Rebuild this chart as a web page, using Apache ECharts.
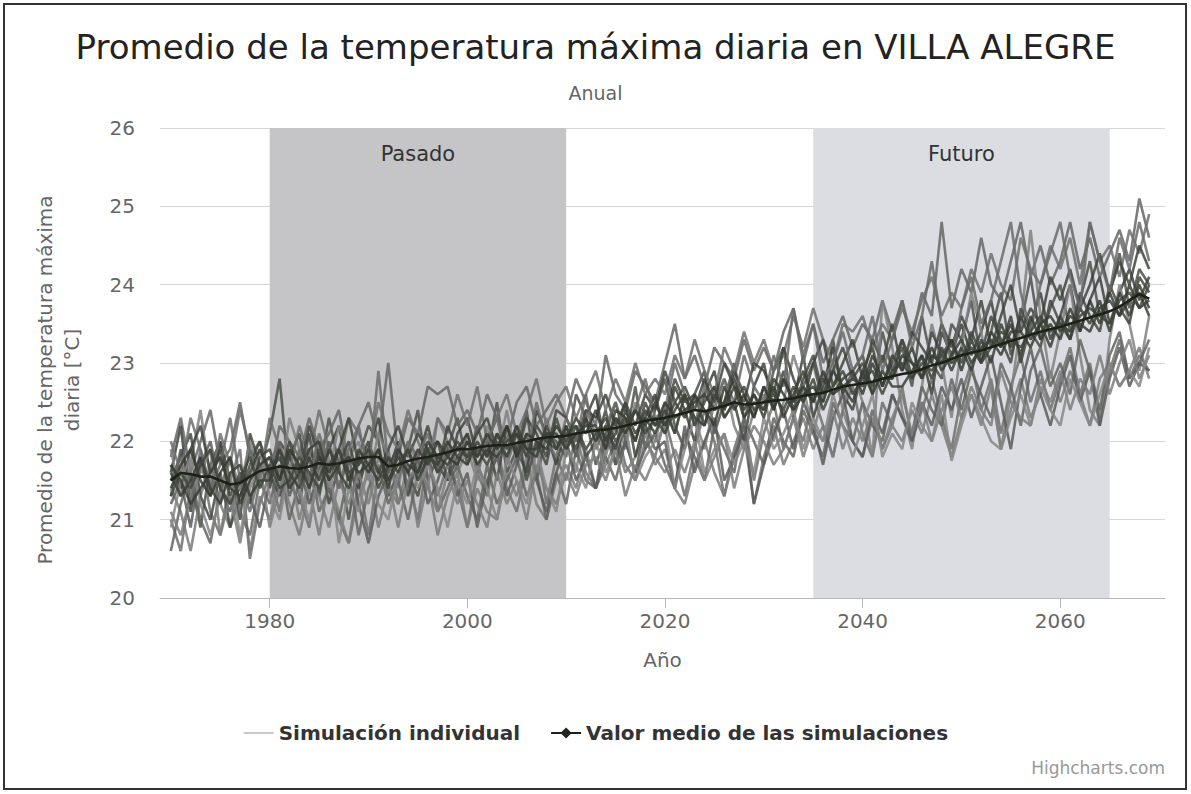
<!DOCTYPE html>
<html><head><meta charset="utf-8">
<script src="https://cdn.jsdelivr.net/npm/echarts@6/dist/echarts.min.js"></script>
<style>html,body{margin:0;padding:0;background:#fff}#c{width:1191px;height:794px}</style>
</head><body><div id="c"></div>
<script>
const years = [
1970,1971,1972,1973,1974,1975,1976,1977,1978,1979,
1980,1981,1982,1983,1984,1985,1986,1987,1988,1989,
1990,1991,1992,1993,1994,1995,1996,1997,1998,1999,
2000,2001,2002,2003,2004,2005,2006,2007,2008,2009,
2010,2011,2012,2013,2014,2015,2016,2017,2018,2019,
2020,2021,2022,2023,2024,2025,2026,2027,2028,2029,
2030,2031,2032,2033,2034,2035,2036,2037,2038,2039,
2040,2041,2042,2043,2044,2045,2046,2047,2048,2049,
2050,2051,2052,2053,2054,2055,2056,2057,2058,2059,
2060,2061,2062,2063,2064,2065,2066,2067,2068,2069];
const xTicks = [1980, 2000, 2020, 2040, 2060];
const yTicks = [20, 21, 22, 23, 24, 25, 26];
const bandPasado = [1980, 2010];
const bandFuturo = [2035, 2065];

const meanValues = [
21.5,21.6,21.58,21.55,21.55,21.5,21.45,21.47,21.55,21.62,
21.65,21.68,21.66,21.65,21.68,21.72,21.7,21.72,21.75,21.78,
21.8,21.8,21.68,21.7,21.75,21.78,21.8,21.83,21.86,21.9,
21.9,21.92,21.94,21.95,21.95,21.98,22.0,22.03,22.05,22.06,
22.07,22.1,22.12,22.14,22.15,22.17,22.2,22.23,22.26,22.28,
22.3,22.33,22.36,22.4,22.38,22.42,22.45,22.5,22.47,22.48,
22.5,22.52,22.53,22.55,22.58,22.6,22.62,22.66,22.7,22.72,
22.74,22.76,22.8,22.83,22.86,22.88,22.92,22.97,23.0,23.05,
23.1,23.13,23.16,23.2,23.24,23.28,23.32,23.36,23.4,23.43,
23.46,23.5,23.54,23.58,23.62,23.66,23.72,23.8,23.88,23.82];

const sim1 = [
21.3,21.9,21.5,20.9,21.7,22.0,21.2,21.4,21.9,21.6,
22.1,22.8,21.5,21.2,21.9,21.6,22.3,21.7,21.0,21.8,
22.2,22.0,21.3,21.6,21.9,22.4,21.5,21.8,21.9,22.3,
21.7,22.2,21.8,22.5,21.6,21.9,22.4,21.5,22.1,22.0,
21.8,22.6,22.3,21.7,22.1,22.5,22.0,22.7,21.9,22.4,
22.8,22.2,21.9,22.6,22.9,22.1,22.5,23.0,22.3,22.6,
22.4,22.9,23.2,22.3,22.7,23.0,22.5,23.3,22.6,22.9,
23.1,22.6,23.4,22.9,23.2,22.7,23.6,23.0,22.8,23.5,
23.3,23.8,23.0,23.4,23.9,23.1,23.5,24.1,23.3,23.7,
24.0,23.4,23.8,24.3,23.6,23.9,24.4,23.7,24.2,24.0];
const sim2 = [
21.0,20.6,21.4,21.8,21.1,20.8,21.5,21.9,20.5,21.2,
21.6,21.1,21.9,21.3,20.9,21.7,21.4,21.0,20.7,21.5,
20.8,21.6,21.9,21.2,21.5,21.0,21.8,21.3,21.7,21.4,
20.9,21.6,21.3,21.9,21.4,21.1,21.7,22.0,21.2,21.8,
21.5,22.1,21.6,21.4,21.9,22.2,21.7,21.5,22.0,21.8,
22.3,21.8,21.3,21.9,22.4,22.0,21.3,21.9,22.3,21.5,
22.1,22.5,21.9,22.3,22.0,22.6,22.2,21.8,22.4,22.7,
22.1,21.8,22.5,22.2,22.7,22.0,22.4,22.8,22.3,21.9,
22.6,23.0,22.4,22.8,22.1,22.7,23.1,22.5,22.9,22.4,
22.8,23.2,22.6,23.0,22.3,22.9,23.3,22.8,23.1,22.9];
const sim3 = [
21.8,22.3,21.6,22.0,22.4,21.7,21.9,22.5,21.8,22.0,
21.5,22.2,22.0,21.8,22.3,21.9,22.1,22.4,21.7,22.2,
22.5,22.0,23.0,21.8,22.3,22.1,22.7,22.6,22.7,22.2,
22.4,22.1,22.6,22.3,22.0,22.5,22.7,22.2,22.4,22.6,
22.3,22.8,22.5,22.2,23.1,22.6,22.4,22.9,22.7,22.5,
23.0,23.5,22.8,23.1,22.7,23.2,23.0,22.8,23.3,22.9,
23.2,22.9,23.4,23.7,23.1,23.5,23.0,23.3,23.6,23.2,
23.5,23.3,23.8,23.4,23.8,23.3,23.9,23.6,24.8,23.7,
24.2,23.9,24.6,24.0,23.8,24.3,24.8,24.1,24.5,24.0,
24.3,24.8,24.2,24.6,24.1,24.4,24.7,24.3,25.1,24.6];
const sim4 = [
21.4,21.1,20.6,21.3,21.7,21.2,20.9,21.6,20.6,21.3,
21.0,21.6,21.2,20.8,21.4,20.8,21.5,21.1,20.7,21.3,
21.6,20.9,21.4,21.2,21.7,20.9,21.5,20.8,21.3,21.6,
20.9,21.4,21.1,21.0,21.6,21.3,21.8,21.2,21.0,21.5,
21.7,21.4,21.9,21.4,21.7,22.0,21.6,21.8,22.1,21.7,
21.9,21.4,21.2,21.7,22.0,21.6,21.3,21.8,22.1,21.2,
21.8,22.2,21.7,22.0,22.3,21.9,22.2,21.8,22.4,22.0,
21.8,22.3,21.9,22.2,22.0,22.4,22.1,22.6,22.2,21.8,
22.3,22.6,22.2,22.7,21.9,22.4,22.8,22.3,22.6,22.9,
22.5,22.9,22.6,22.2,22.8,23.0,22.7,22.9,23.2,22.8];
const sim5 = [
21.6,22.2,21.1,21.8,21.3,22.0,21.5,21.0,22.1,21.7,
21.4,22.0,21.8,21.5,22.1,21.3,21.9,22.2,21.6,21.4,
21.9,22.3,21.6,22.0,21.3,21.8,22.2,21.7,21.5,22.1,
22.3,21.8,22.0,21.5,22.2,21.9,21.6,22.4,22.1,21.7,
22.2,21.8,22.3,22.6,21.9,22.1,22.5,21.8,22.3,22.6,
22.1,22.7,22.4,22.0,22.6,22.9,22.3,22.5,22.0,22.7,
23.0,22.4,22.8,22.5,23.1,22.3,22.7,23.2,22.6,22.4,
22.9,23.2,22.7,23.0,23.3,22.8,23.1,22.6,23.4,23.1,
23.5,23.1,23.4,23.8,23.2,23.6,23.0,23.5,23.9,23.3,
23.6,24.0,23.4,23.8,24.1,23.5,23.9,24.2,23.8,24.1];
const sim6 = [
21.9,21.3,21.7,22.4,21.5,21.2,21.8,21.4,22.0,21.6,
21.8,21.4,22.3,21.9,21.5,22.0,21.6,22.2,21.8,22.0,
21.5,22.1,21.8,21.4,22.0,21.7,21.4,22.3,22.0,21.6,
21.9,21.5,22.2,21.8,22.4,21.7,22.0,21.6,22.3,21.9,
22.0,21.6,22.4,22.1,21.8,22.3,21.9,22.5,22.2,22.0,
22.5,22.1,22.6,22.3,21.9,22.5,22.8,22.2,21.9,22.4,
22.6,22.0,22.5,23.1,22.7,22.1,22.6,23.0,22.4,22.9,
22.5,21.8,23.8,23.2,22.4,21.9,22.7,23.5,23.0,22.3,
23.2,23.9,23.4,22.7,21.9,22.6,23.5,24.7,23.6,22.8,
23.4,24.0,23.1,22.4,22.2,23.3,24.0,23.5,22.9,23.6];
const sim7 = [
21.5,21.8,22.1,21.3,21.0,21.6,20.9,21.3,21.7,22.0,
21.6,21.3,21.8,22.1,21.4,21.9,21.2,21.7,22.0,21.5,
21.9,21.4,21.7,21.9,21.6,21.3,21.9,22.0,21.5,21.8,
22.0,21.7,21.4,22.1,21.8,22.2,21.5,22.0,21.7,22.3,
21.9,22.2,21.8,22.0,22.4,21.7,22.3,22.0,22.5,22.2,
22.3,22.8,22.5,22.6,22.2,22.7,22.4,22.9,22.6,22.3,
22.7,22.5,22.9,22.4,22.8,23.1,22.6,22.9,23.2,22.8,
23.0,22.7,23.1,22.8,23.3,23.0,22.8,23.4,23.1,23.3,
23.0,23.4,23.1,23.6,23.3,23.0,23.7,23.4,23.2,23.8,
23.5,23.3,23.9,23.6,23.4,24.0,23.7,23.5,24.1,23.9];
const sim8 = [
20.6,21.2,21.6,21.0,20.7,21.4,21.8,21.1,20.8,21.5,
21.2,21.7,21.0,21.5,21.8,21.1,21.4,21.0,21.6,20.8,
21.4,21.7,21.2,21.5,21.0,21.6,21.9,21.1,21.4,21.7,
21.3,21.0,21.7,21.2,21.5,21.8,21.3,21.6,21.0,21.6,
21.2,21.9,21.5,21.4,21.8,21.5,22.0,21.6,21.9,22.1,
21.7,21.4,22.1,21.8,21.5,22.2,21.9,21.6,22.3,22.0,
21.7,22.3,22.0,21.8,22.4,22.1,21.8,22.5,22.2,22.0,
22.5,22.2,22.0,22.6,22.3,22.1,22.7,22.4,22.2,22.8,
22.4,22.9,22.6,22.3,23.0,22.7,22.2,22.9,23.2,22.7,
23.0,22.6,23.3,22.9,22.4,23.1,23.4,22.8,23.0,23.3];
const sim9 = [
22.0,21.6,22.3,21.9,21.4,22.1,21.7,22.4,21.9,21.5,
22.3,21.9,21.6,22.2,21.8,22.4,21.9,21.7,22.3,22.1,
21.8,22.5,22.1,21.9,22.4,22.0,21.7,22.3,22.1,22.6,
22.2,22.7,22.0,22.3,22.6,22.1,22.4,22.8,22.2,22.5,
22.7,22.3,22.6,22.9,22.4,22.8,22.5,23.0,22.6,22.8,
22.6,23.1,22.8,23.3,22.9,22.6,23.2,22.9,23.4,23.0,
23.3,22.9,23.1,23.6,23.2,23.7,23.3,23.0,23.5,23.4,
23.6,23.2,23.5,23.3,23.7,23.4,23.8,24.1,23.6,23.9,
23.7,24.2,23.9,24.4,24.0,23.8,24.6,24.2,24.0,24.5,
24.2,24.6,24.0,24.8,24.3,24.5,24.1,24.7,24.4,24.9];
const sim10 = [
21.2,21.5,20.9,21.7,22.0,21.4,21.1,21.6,21.3,20.9,
21.5,21.9,21.3,21.7,21.2,21.6,22.0,21.4,21.8,21.2,
20.7,21.3,21.6,21.9,21.4,21.8,21.2,21.5,21.9,21.3,
21.6,20.9,21.5,21.8,21.3,21.7,22.1,21.5,21.1,21.6,
22.0,21.5,21.8,21.4,22.1,21.7,22.0,21.6,22.2,21.9,
22.0,21.4,22.2,21.6,22.0,22.3,21.5,21.8,22.2,21.2,
21.7,22.1,22.4,21.9,22.5,22.2,21.7,22.3,22.6,22.0,
21.8,22.4,22.1,22.6,22.3,22.0,22.5,22.2,22.7,22.4,
22.8,22.3,22.7,23.1,22.5,21.9,22.7,23.2,22.6,22.2,
22.7,23.1,22.5,22.9,22.2,22.8,23.2,22.7,23.0,22.9];
const sim11 = [
21.7,21.4,21.9,22.2,21.6,21.9,21.3,21.6,21.2,21.8,
21.9,21.5,22.0,21.6,22.2,21.8,21.5,21.9,22.3,21.7,
22.0,21.6,21.9,22.2,21.8,22.1,21.9,21.6,22.2,21.9,
21.8,22.1,22.3,21.9,22.2,21.8,22.3,22.1,21.8,22.4,
22.3,22.0,22.4,22.3,22.6,22.2,22.5,22.2,22.6,22.4,
22.9,22.5,22.7,22.4,22.8,22.5,23.0,22.7,22.5,23.0,
22.9,22.6,23.2,22.8,22.5,23.0,23.3,22.7,23.0,23.3,
22.8,23.3,23.0,23.5,22.9,23.4,23.2,23.0,23.5,23.2,
23.6,23.3,23.8,23.2,23.6,24.0,23.4,23.7,23.5,24.1,
23.8,24.2,23.7,24.0,24.4,23.9,24.3,24.0,24.5,24.2];
const sim12 = [
21.1,20.8,21.3,21.6,21.9,20.8,21.3,20.7,21.4,21.7,
20.9,21.4,21.7,21.0,21.5,21.3,20.9,21.5,21.2,21.6,
21.2,21.8,21.5,20.9,21.5,21.7,21.4,21.1,21.6,21.2,
21.5,21.2,20.9,21.6,21.2,21.5,21.0,21.7,21.4,21.2,
21.6,21.3,21.7,21.8,21.5,21.9,21.3,21.7,21.5,21.8,
21.6,21.9,21.6,22.0,21.5,21.8,22.1,21.4,21.9,22.2,
22.0,21.7,21.9,22.3,21.8,22.2,22.0,22.4,21.9,22.3,
22.0,22.4,21.9,22.3,22.6,22.1,22.5,22.0,22.4,22.7,
22.3,22.7,22.4,22.2,22.9,22.5,22.3,22.2,22.8,22.5,
22.9,22.4,22.8,22.6,23.1,22.6,23.0,23.3,22.8,23.1];
const sim13 = [
21.5,21.8,21.2,21.9,21.4,21.7,22.3,21.5,21.1,21.6,
21.7,22.0,21.4,21.9,21.5,22.1,21.7,21.4,21.9,22.2,
21.6,22.9,21.7,21.5,22.0,21.8,22.1,21.6,22.0,21.7,
22.1,21.6,22.0,22.3,21.7,22.1,21.8,22.5,22.0,21.8,
22.3,22.0,22.6,21.9,22.2,22.5,22.1,22.4,22.8,22.3,
22.4,23.0,22.6,22.2,22.7,22.4,22.8,22.5,23.1,22.7,
22.5,23.1,22.7,23.7,23.0,23.5,22.8,23.0,23.4,22.9,
23.1,23.6,22.9,23.3,23.8,23.2,23.6,24.3,23.5,23.0,
23.7,24.1,23.5,23.8,24.3,24.8,23.9,23.4,24.0,24.4,
24.8,24.1,23.7,24.8,24.3,23.9,24.6,24.2,24.8,24.3];
const sim14 = [
20.9,21.5,21.8,21.2,20.8,21.3,21.6,20.8,21.5,21.9,
21.3,21.0,21.7,21.4,21.0,21.6,21.8,20.7,21.4,21.1,
21.7,21.2,21.0,21.6,21.9,21.4,21.7,21.4,20.9,21.5,
21.2,21.7,21.4,21.0,21.8,21.5,21.2,21.9,21.4,21.1,
21.9,21.7,21.4,22.0,21.6,21.9,22.2,21.5,21.8,22.0,
22.2,21.4,21.9,22.3,21.6,21.9,22.1,21.7,22.0,21.6,
22.3,21.9,22.1,22.4,21.9,22.3,22.0,22.6,22.2,21.8,
22.2,22.6,21.8,22.1,21.9,22.5,22.2,22.0,22.6,21.75,
22.2,22.6,22.3,22.0,21.9,22.3,22.6,22.2,22.7,22.4,
22.2,22.8,22.5,22.2,22.6,23.0,22.7,22.9,22.7,23.2];
const sim15 = [
21.4,21.7,21.9,21.5,21.3,21.6,21.8,21.2,21.5,21.7,
21.8,21.5,21.9,21.7,21.4,21.8,21.6,21.9,21.5,21.8,
21.6,21.9,21.5,21.8,21.6,21.9,21.7,22.0,21.8,21.7,
22.0,21.8,22.1,21.9,22.2,21.8,22.1,22.0,21.9,22.2,
22.0,22.3,22.1,22.4,22.0,22.3,22.1,22.4,22.2,22.5,
22.2,22.5,22.3,22.6,22.4,22.2,22.7,22.4,22.6,22.3,
22.7,22.4,22.8,22.5,22.7,22.5,22.9,22.6,22.8,22.9,
22.6,23.0,22.7,23.1,22.9,23.2,22.8,23.1,23.0,23.3,
22.9,23.3,23.0,23.4,23.2,23.5,23.1,23.6,23.3,23.5,
23.3,23.7,23.4,23.8,23.5,23.9,23.6,24.0,23.7,23.8];
const sim16 = [
21.6,21.3,21.5,21.8,21.4,21.2,21.6,21.7,21.3,21.5,
21.5,21.9,21.6,21.4,21.8,21.5,21.9,21.6,21.4,21.9,
21.7,21.5,21.8,21.6,21.9,21.5,21.8,21.7,22.0,21.8,
21.7,22.0,21.8,22.1,21.9,22.2,21.9,21.8,22.2,21.9,
22.2,21.9,22.3,22.0,22.2,21.9,22.4,22.1,22.3,22.1,
22.4,22.1,22.6,22.3,22.2,22.6,22.4,22.7,22.3,22.5,
22.4,22.7,22.3,22.6,22.9,22.5,22.8,22.6,22.7,22.5,
22.9,22.6,22.9,22.7,22.7,22.9,23.1,22.8,23.2,22.9,
23.2,22.9,23.3,23.0,23.5,23.2,23.6,23.3,23.5,23.2,
23.6,23.3,23.7,23.5,23.8,23.4,23.9,23.6,24.0,23.7];
const sim17 = [
21.3,21.6,21.4,21.7,21.9,21.4,21.2,21.5,21.8,21.4,
21.7,21.4,21.5,21.8,21.6,21.4,21.7,21.9,21.6,21.7,
21.9,21.6,21.5,21.7,21.9,21.6,21.9,21.6,21.8,22.0,
21.8,21.9,21.7,22.0,21.8,22.1,21.8,22.2,22.0,21.9,
22.1,22.2,21.9,22.1,22.3,22.0,22.2,22.4,22.1,22.3,
22.1,22.4,22.6,22.2,22.5,22.7,22.3,22.5,22.7,22.4,
22.5,22.6,22.4,22.7,22.5,22.8,22.4,22.7,22.9,22.6,
22.8,22.9,22.6,22.9,23.0,22.8,23.0,22.9,23.1,23.0,
23.1,23.2,23.0,23.2,23.4,23.3,23.2,23.4,23.6,23.4,
23.5,23.4,23.6,23.7,23.6,23.5,23.8,23.9,23.7,24.0];
const sim18 = [
21.7,21.5,21.2,21.4,21.6,21.8,21.4,21.3,21.6,21.9,
21.6,21.8,21.4,21.6,21.9,22.0,21.5,21.7,21.8,21.6,
21.7,21.9,21.4,21.9,21.7,21.6,22.0,21.8,21.7,21.9,
22.1,21.7,21.9,21.8,22.0,22.1,21.9,21.9,22.1,22.1,
21.9,22.1,22.2,22.2,21.9,22.4,22.3,22.0,22.4,22.2,
22.5,22.3,22.4,22.5,22.6,22.4,22.5,22.8,22.4,22.6,
22.3,22.8,22.6,22.4,22.6,22.7,22.5,22.9,22.7,22.8,
22.7,23.1,22.8,22.8,23.1,23.0,22.9,23.2,22.9,23.1,
23.3,23.0,23.2,23.3,23.1,23.4,23.4,23.2,23.5,23.6,
23.4,23.6,23.5,23.4,23.7,23.8,23.6,23.8,23.9,23.6];

const simulations = [sim1, sim2, sim3, sim4, sim5, sim6, sim7, sim8, sim9, sim10, sim11, sim12, sim13, sim14, sim15, sim16, sim17, sim18];
const simColors = ['#4c514a','#6e6e6e','#666666','#7a7a7a','#3d433b','#808080','#434941','#62655f','#707070','#5a5a5a','#3f453c','#7c7c7c','#6b6b6b','#868686','#363c33','#3a4037','#3e463b','#383e35'];

const SIM_NAME = 'Simulación individual';
const MEAN_NAME = 'Valor medio de las simulaciones';
const FONT = 'DejaVu Sans';

function pairs(vals) { return vals.map((v, i) => [years[i], v]); }

const series = [{
  type: 'line', name: 'bands', data: [], silent: true, z: 1,
  markArea: {
    silent: true,
    label: { position: 'insideTop', distance: 15, color: '#333', fontSize: 21, fontFamily: FONT },
    data: [
      [{ name: 'Pasado', xAxis: bandPasado[0], itemStyle: { color: '#c5c5c7' } }, { xAxis: bandPasado[1] }],
      [{ name: 'Futuro', xAxis: bandFuturo[0], itemStyle: { color: '#dcdde3' } }, { xAxis: bandFuturo[1] }]
    ]
  }
}];
simulations.forEach((s, k) => {
  series.push({
    type: 'line', name: SIM_NAME, data: pairs(s), symbol: 'none', z: 2,
    lineStyle: { width: 2.6, color: simColors[k], opacity: 0.85 },
    itemStyle: { color: '#999' }
  });
});
series.push({
  type: 'line', name: MEAN_NAME, data: pairs(meanValues), symbol: 'diamond', symbolSize: 13,
  showSymbol: false, z: 3,
  lineStyle: { width: 2.6, color: '#1c2218' }, itemStyle: { color: '#1f261b' }
});

const chart = echarts.init(document.getElementById('c'), null, { renderer: 'svg' });
chart.setOption({
  animation: false,
  backgroundColor: '#ffffff',
  title: {
    text: 'Promedio de la temperatura máxima diaria en VILLA ALEGRE',
    subtext: 'Anual',
    left: 'center', top: 25, itemGap: 19,
    textStyle: { fontFamily: FONT, fontSize: 34, fontWeight: 'normal', color: '#222' },
    subtextStyle: { fontFamily: FONT, fontSize: 19, color: '#666' }
  },
  grid: { left: 160, right: 26, top: 128, bottom: 196 },
  legend: {
    data: [
      { name: SIM_NAME, itemStyle: { opacity: 0 }, lineStyle: { color: '#aaa', width: 1.5 } },
      { name: MEAN_NAME }
    ],
    left: 'center', top: 718, itemWidth: 30, itemHeight: 14, itemGap: 30,
    textStyle: { fontFamily: FONT, fontSize: 20, fontWeight: 'bold', color: '#333' }
  },
  xAxis: {
    type: 'value', min: 1968.9, max: 2070.6,
    name: 'Año', nameLocation: 'middle', nameGap: 52,
    nameTextStyle: { fontFamily: FONT, fontSize: 20, color: '#666' },
    axisLine: { lineStyle: { color: '#b8b8b8', width: 1 } },
    axisTick: { customValues: xTicks, length: 10, lineStyle: { color: '#b8b8b8' } },
    axisLabel: { customValues: xTicks, margin: 13, fontFamily: FONT, fontSize: 20, color: '#666',
      formatter: v => String(v) },
    splitLine: { show: false }
  },
  yAxis: {
    type: 'value', min: yTicks[0], max: yTicks[yTicks.length - 1], interval: 1,
    axisLine: { show: false }, axisTick: { show: false },
    axisLabel: { margin: 25, fontFamily: FONT, fontSize: 20, color: '#666' },
    splitLine: { lineStyle: { color: '#d6d6d6', width: 1 } }
  },
  graphic: [
    { type: 'rect', shape: { x: 4, y: 4, width: 1182, height: 785 }, style: { fill: 'none', stroke: '#333', lineWidth: 2 }, silent: true },
    { type: 'text', x: 58, y: 380, rotation: Math.PI / 2,
      style: { text: 'Promedio de la temperatura máxima\ndiaria [°C]', fill: '#666', font: '20px "DejaVu Sans"', align: 'center', verticalAlign: 'middle', lineHeight: 27 } },
    { type: 'text', x: 1165, y: 768,
      style: { text: 'Highcharts.com', fill: '#999', font: '17px "DejaVu Sans"', align: 'right', verticalAlign: 'middle' } }
  ],
  series: series
});
</script></body></html>
